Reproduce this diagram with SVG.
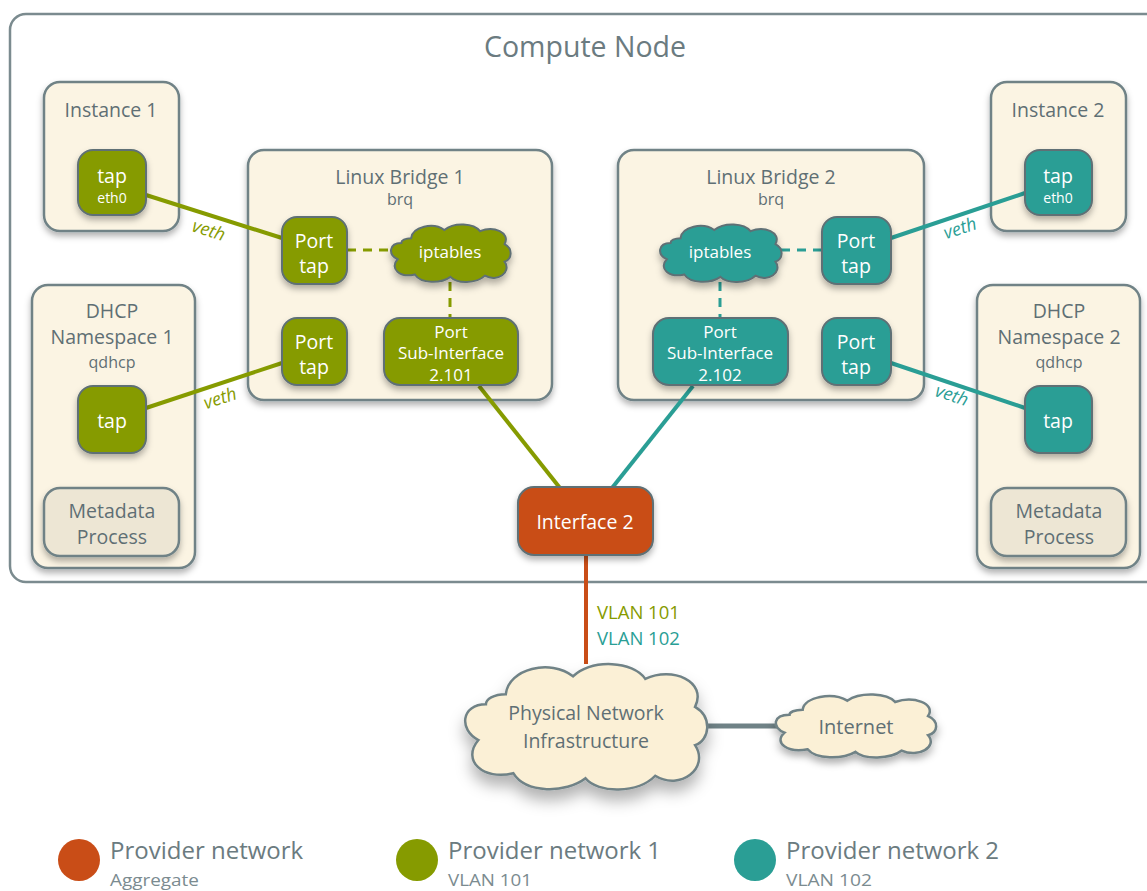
<svg xmlns="http://www.w3.org/2000/svg" xmlns:xlink="http://www.w3.org/1999/xlink" width="1147" height="891" viewBox="0 0 1147 891">
<style>
text{font-family:"Open Sans","Liberation Sans",sans-serif;text-anchor:middle}
.box{fill:#fbf4e3;stroke:#6f8286;stroke-width:2.5}
.meta{fill:#ede6d4;stroke:#6f8286;stroke-width:2.5}
.g{fill:#869b00;stroke:#5f7075;stroke-width:2}
.t{fill:#2a9e95;stroke:#5f7075;stroke-width:2}
.o{fill:#c94d17;stroke:#5f7075;stroke-width:2}
.lbl{fill:#5f6f74;font-size:19.5px}
.sub{fill:#5f6f74;font-size:16px}
.w{fill:#ffffff;font-size:19.5px}
.ws{fill:#ffffff;font-size:17px}
.we{fill:#ffffff;font-size:14px}
.lg{stroke:#869b00;stroke-width:4;fill:none}
.lt{stroke:#2a9e95;stroke-width:4;fill:none}
.dg{stroke:#869b00;stroke-width:3;stroke-dasharray:9 7;fill:none}
.dt{stroke:#2a9e95;stroke-width:3;stroke-dasharray:9 7;fill:none}
.vg{fill:#869b00;font-size:18px;font-style:italic}
.vt{fill:#2a9e95;font-size:18px;font-style:italic}
.cl{stroke:#6f8286;stroke-width:2.5;fill:#fbf0d6}
.lgt{fill:#6b7b80;font-size:24px;text-anchor:start}
.lgs{fill:#7b8b90;font-size:17px;text-anchor:start}
</style>
<defs>
<filter id="sh" x="-20%" y="-20%" width="140%" height="150%">
<feDropShadow dx="0" dy="4" stdDeviation="3" flood-color="#000" flood-opacity="0.3"/>
</filter>
<path id="cloud" vector-effect="non-scaling-stroke" d="M18 13 C19 3 36 -1 45 6 C53 -1 69 0 74 7 C85 2 99 8 94 18 C101 22 100 31 94 33 C100 42 88 51 78 45 C71 52 55 52 50 46 C42 52 26 52 21 44 C9 47 0 39 7 31 C-1 27 0 17 10 17 C10 15 13 13 18 13 Z"/>
</defs>

<g id="compute-node">
<rect x="10" y="14" width="1160" height="568" rx="16" fill="#ffffff" stroke="#7b8b8f" stroke-width="2.5"/>
<text x="585" y="57" style="font-size:28.5px;fill:#6b7b80">Compute Node</text>
</g>

<g id="instance1">
<rect class="box" x="44" y="82" width="135" height="149" rx="16" filter="url(#sh)"/>
<text class="lbl" x="111" y="117">Instance 1</text>
</g>
<g id="dhcp1">
<rect class="box" x="32" y="285" width="163" height="283" rx="16" filter="url(#sh)"/>
<text class="lbl" x="112" y="318">DHCP</text>
<text class="lbl" x="112" y="344">Namespace 1</text>
<text class="sub" x="112" y="368">qdhcp</text>
</g>
<g id="bridge1">
<rect class="box" x="248" y="150" width="304" height="250" rx="16" filter="url(#sh)"/>
<text class="lbl" x="400" y="184">Linux Bridge 1</text>
<text class="sub" x="400" y="205">brq</text>
</g>
<g id="bridge2">
<rect class="box" x="618" y="150" width="306" height="250" rx="16" filter="url(#sh)"/>
<text class="lbl" x="771" y="184">Linux Bridge 2</text>
<text class="sub" x="771" y="205">brq</text>
</g>
<g id="instance2">
<rect class="box" x="991" y="82" width="135" height="149" rx="16" filter="url(#sh)"/>
<text class="lbl" x="1058" y="117">Instance 2</text>
</g>
<g id="dhcp2">
<rect class="box" x="977" y="285" width="163" height="283" rx="16" filter="url(#sh)"/>
<text class="lbl" x="1059" y="318">DHCP</text>
<text class="lbl" x="1059" y="344">Namespace 2</text>
<text class="sub" x="1059" y="368">qdhcp</text>
</g>

<g id="connectors">
<line class="lg" x1="146" y1="195" x2="282" y2="238"/>
<line class="lg" x1="146" y1="408" x2="282" y2="363"/>
<line class="lt" x1="891" y1="238" x2="1025" y2="193"/>
<line class="lt" x1="891" y1="363" x2="1025" y2="408"/>
<line class="dg" x1="347" y1="250" x2="391" y2="250"/>
<line class="dg" x1="450" y1="282" x2="450" y2="318"/>
<line class="dt" x1="781" y1="250" x2="822" y2="250"/>
<line class="dt" x1="720" y1="282" x2="720" y2="318"/>
<line class="lg" x1="479" y1="386" x2="560" y2="488"/>
<line class="lt" x1="693" y1="386" x2="612" y2="488"/>
<line x1="586" y1="555" x2="586" y2="664" stroke="#c94d17" stroke-width="4"/>
<line x1="706" y1="726" x2="778" y2="726" stroke="#6f8286" stroke-width="5"/>
<text class="vg" transform="translate(207,236) rotate(17.5)">veth</text>
<text class="vg" transform="translate(222,404) rotate(-18)">veth</text>
<text class="vt" transform="translate(962,234) rotate(-18.5)">veth</text>
<text class="vt" transform="translate(950,401) rotate(18.5)">veth</text>
<text x="597" y="619" style="font-size:18.5px;fill:#869b00;text-anchor:start">VLAN 101</text>
<text x="597" y="645" style="font-size:18.5px;fill:#2a9e95;text-anchor:start">VLAN 102</text>
</g>

<g id="instance1-tap">
<rect class="g" x="78" y="150" width="68" height="65" rx="15" filter="url(#sh)"/>
<text class="w" x="112" y="183">tap</text>
<text class="we" x="112" y="203">eth0</text>
</g>
<g id="dhcp1-tap">
<rect class="g" x="78" y="386" width="68" height="67" rx="15" filter="url(#sh)"/>
<text class="w" x="112" y="428">tap</text>
</g>
<g id="meta1">
<rect class="meta" x="44" y="488" width="135" height="68" rx="16" filter="url(#sh)"/>
<text class="lbl" x="112" y="518">Metadata</text>
<text class="lbl" x="112" y="544">Process</text>
</g>

<g id="b1-port-tap1">
<rect class="g" x="282" y="217" width="65" height="67" rx="15" filter="url(#sh)"/>
<text class="w" x="314" y="248">Port</text>
<text class="w" x="314" y="273">tap</text>
</g>
<g id="b1-iptables">
<use href="#cloud" class="g" transform="translate(389,223) scale(1.23,1.17)" filter="url(#sh)"/>
<text class="ws" x="450" y="258">iptables</text>
</g>
<g id="b1-port-tap2">
<rect class="g" x="282" y="318" width="65" height="67" rx="15" filter="url(#sh)"/>
<text class="w" x="314" y="349">Port</text>
<text class="w" x="314" y="374">tap</text>
</g>
<g id="b1-subif">
<rect class="g" x="384" y="318" width="134" height="67" rx="16" filter="url(#sh)"/>
<text class="ws" x="451" y="338">Port</text>
<text class="ws" x="451" y="359">Sub-Interface</text>
<text class="ws" x="451" y="381">2.101</text>
</g>

<g id="b2-iptables">
<use href="#cloud" class="t" transform="translate(658,223) scale(1.25,1.17)" filter="url(#sh)"/>
<text class="ws" x="720" y="258">iptables</text>
</g>
<g id="b2-port-tap1">
<rect class="t" x="822" y="217" width="69" height="67" rx="15" filter="url(#sh)"/>
<text class="w" x="856" y="248">Port</text>
<text class="w" x="856" y="273">tap</text>
</g>
<g id="b2-subif">
<rect class="t" x="653" y="318" width="135" height="67" rx="16" filter="url(#sh)"/>
<text class="ws" x="720" y="338">Port</text>
<text class="ws" x="720" y="359">Sub-Interface</text>
<text class="ws" x="720" y="381">2.102</text>
</g>
<g id="b2-port-tap2">
<rect class="t" x="822" y="318" width="69" height="67" rx="15" filter="url(#sh)"/>
<text class="w" x="856" y="349">Port</text>
<text class="w" x="856" y="374">tap</text>
</g>

<g id="instance2-tap">
<rect class="t" x="1025" y="150" width="67" height="65" rx="15" filter="url(#sh)"/>
<text class="w" x="1058" y="183">tap</text>
<text class="we" x="1058" y="203">eth0</text>
</g>
<g id="dhcp2-tap">
<rect class="t" x="1025" y="386" width="67" height="67" rx="15" filter="url(#sh)"/>
<text class="w" x="1058" y="428">tap</text>
</g>
<g id="meta2">
<rect class="meta" x="991" y="488" width="135" height="68" rx="16" filter="url(#sh)"/>
<text class="lbl" x="1059" y="518">Metadata</text>
<text class="lbl" x="1059" y="544">Process</text>
</g>

<g id="interface2">
<rect class="o" x="518" y="487" width="135" height="68" rx="16" filter="url(#sh)"/>
<text class="w" x="585" y="529">Interface 2</text>
</g>

<g id="physical-network">
<use href="#cloud" class="cl" transform="translate(461,661) scale(2.49,2.55)" filter="url(#sh)"/>
<text class="lbl" x="586" y="720">Physical Network</text>
<text class="lbl" x="586" y="748">Infrastructure</text>
</g>
<g id="internet">
<use href="#cloud" class="cl" transform="translate(773,693) scale(1.65,1.28)" filter="url(#sh)"/>
<text class="lbl" x="856" y="734" style="font-size:20px">Internet</text>
</g>

<g id="legend">
<circle cx="79" cy="860" r="21" fill="#c94d17"/>
<text class="lgt" x="110" y="859">Provider network</text>
<text class="lgs" x="110" y="886" textLength="89" lengthAdjust="spacingAndGlyphs">Aggregate</text>
<circle cx="417" cy="860" r="21" fill="#869b00"/>
<text class="lgt" x="448" y="859">Provider network 1</text>
<text class="lgs" x="448" y="886" textLength="84" lengthAdjust="spacingAndGlyphs">VLAN 101</text>
<circle cx="755" cy="860" r="21" fill="#2a9e95"/>
<text class="lgt" x="786" y="859">Provider network 2</text>
<text class="lgs" x="786" y="886" textLength="86" lengthAdjust="spacingAndGlyphs">VLAN 102</text>
</g>
</svg>
